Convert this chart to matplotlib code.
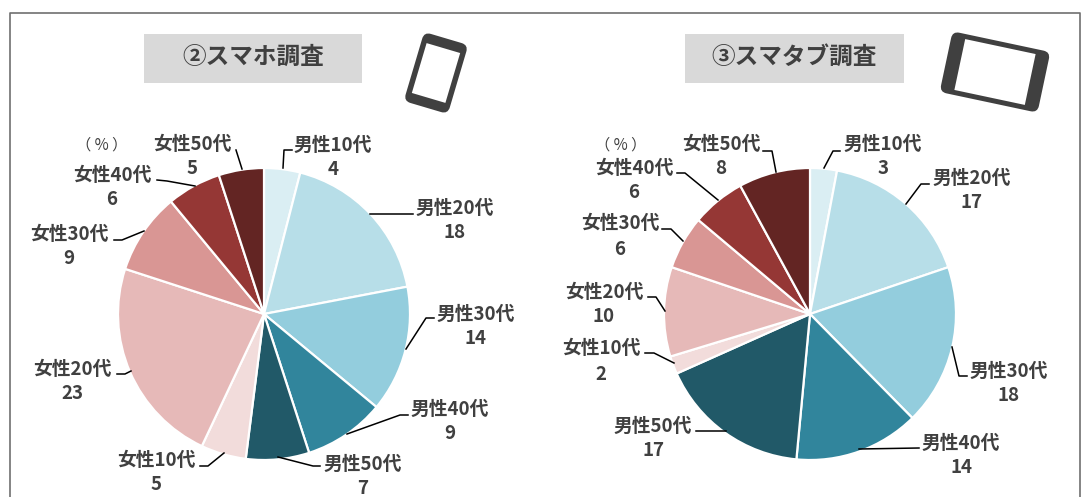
import matplotlib
matplotlib.use("Agg")
import matplotlib.pyplot as plt
from matplotlib.patches import FancyBboxPatch, Rectangle
from matplotlib.transforms import Affine2D

plt.rcParams['font.family'] = ['Noto Sans CJK JP', 'DejaVu Sans']

W, H = 1082, 497
TEXT = "#404040"

categories = ["男性10代", "男性20代", "男性30代", "男性40代", "男性50代",
              "女性10代", "女性20代", "女性30代", "女性40代", "女性50代"]
smartphone = [4, 18, 14, 9, 7, 5, 23, 9, 6, 5]
smarttablet = [3, 17, 18, 14, 17, 2, 10, 6, 6, 8]
colors = ["#daeef3", "#b7dee8", "#93cddd", "#31859c", "#215968",
          "#f2dcdb", "#e6b9b8", "#d99694", "#953735", "#632523"]

# label centres in pixels (x, y of name line, y of value line)
label_pos_1 = [(333, 144, 168), (455, 207, 231), (476, 313, 337), (450, 408, 432), (363, 463, 487),
               (156, 459, 483), (72, 368, 392), (69, 233, 257), (112, 174, 198), (192, 143, 167)]
label_pos_2 = [(883, 143, 167), (972, 177, 201), (1009, 370, 394), (961, 442, 466), (653, 425, 449),
               (601, 347, 373), (604, 291, 315), (620, 222, 248), (634, 167, 191), (721, 143, 167)]

leaders_1 = [[(292, 150), (284, 150), (283, 168)],
             [(413, 214), (370, 214)],
             [(434, 318), (426, 318), (406, 349)],
             [(408, 415), (400, 415), (347, 434)],
             [(320, 466), (313, 466), (278, 457)],
             [(200, 466), (208, 466), (224, 453)],
             [(117, 374), (125, 374), (131, 371)],
             [(114, 240), (122, 240), (144, 231)],
             [(157, 180), (167, 181), (195, 186)],
             [(236, 150), (242, 169)]]
leaders_2 = [[(840, 151), (833, 151), (824, 168)],
             [(929, 184), (921, 184), (906, 204)],
             [(967, 376), (959, 376), (952, 347)],
             [(919, 448), (859, 449)],
             [(696, 431), (726, 431)],
             [(645, 353), (654, 353), (674, 363)],
             [(648, 297), (656, 297), (665, 311)],
             [(662, 229), (671, 229), (683, 241)],
             [(677, 173), (685, 173), (718, 200)],
             [(763, 151), (772, 151), (776, 172)]]


def draw_pie(center, radius, values, labels_at, leaders, ov):
    cx, cy = center
    ax = fig.add_axes([(cx - radius) / W, 1 - (cy + radius) / H, 2 * radius / W, 2 * radius / H])
    ax.pie(values, colors=colors, startangle=90, counterclock=False, radius=1,
           wedgeprops={"edgecolor": "white", "linewidth": 1.6})
    ax.set_xlim(-1, 1)
    ax.set_ylim(-1, 1)
    for pts in leaders:
        ov.plot([p[0] for p in pts], [p[1] for p in pts], color="black", lw=1.1, zorder=5)
    for name, val, (x, y1, y2) in zip(categories, values, labels_at):
        ov.text(x, y1 + 1.5, name, ha="center", va="center", fontsize=13.5, fontweight="bold", color=TEXT, zorder=6)
        ov.text(x, y2 + 1.5, str(val), ha="center", va="center", fontsize=13.5, fontweight="bold", color=TEXT, zorder=6)


def device(ov, cx, cy, w, h, angle, sx, sy):
    # dark rounded body with a white screen, rotated around its centre
    rot = Affine2D().rotate_deg_around(cx, cy, angle) + ov.transData
    body = FancyBboxPatch((cx - w / 2 + 5, cy - h / 2 + 5), w - 10, h - 10,
                          boxstyle="round,pad=5,rounding_size=7", fc="#404040", ec="none", transform=rot)
    screen = Rectangle((cx - sx / 2, cy - sy / 2), sx, sy, fc="white", ec="none", transform=rot)
    ov.add_patch(body)
    ov.add_patch(screen)


fig = plt.figure(figsize=(W / 100, H / 100), dpi=100)
ov = fig.add_axes([0, 0, 1, 1], zorder=10)
ov.set_xlim(0, W)
ov.set_ylim(H, 0)
ov.axis("off")
ov.patch.set_alpha(0)

# outer frame, cut off at the bottom of the picture
ov.plot([9.5, 9.5, 1080, 1080], [H, 12.5, 12.5, H], color="#6f6f6f", lw=1.2)

for x0, x1, title in [(144, 362, "②スマホ調査"), (685, 904, "③スマタブ調査")]:
    ov.add_patch(Rectangle((x0, 34), x1 - x0, 48.5, fc="#d9d9d9", ec="none"))
    ov.text((x0 + x1) / 2, 57, title, ha="center", va="center", fontsize=17, fontweight="bold", color=TEXT)

device(ov, 436, 73, 46, 72, 16.5, 35, 52)
device(ov, 995, 72, 100, 62, 12, 72, 52)

ov.text(102, 145, "（ % ）", ha="center", va="center", fontsize=11, color=TEXT)
ov.text(621, 145, "（ % ）", ha="center", va="center", fontsize=11, color=TEXT)

draw_pie((264, 314), 146, smartphone, label_pos_1, leaders_1, ov)
draw_pie((810, 314), 146, smarttablet, label_pos_2, leaders_2, ov)

fig.savefig("out.png", dpi=100)
